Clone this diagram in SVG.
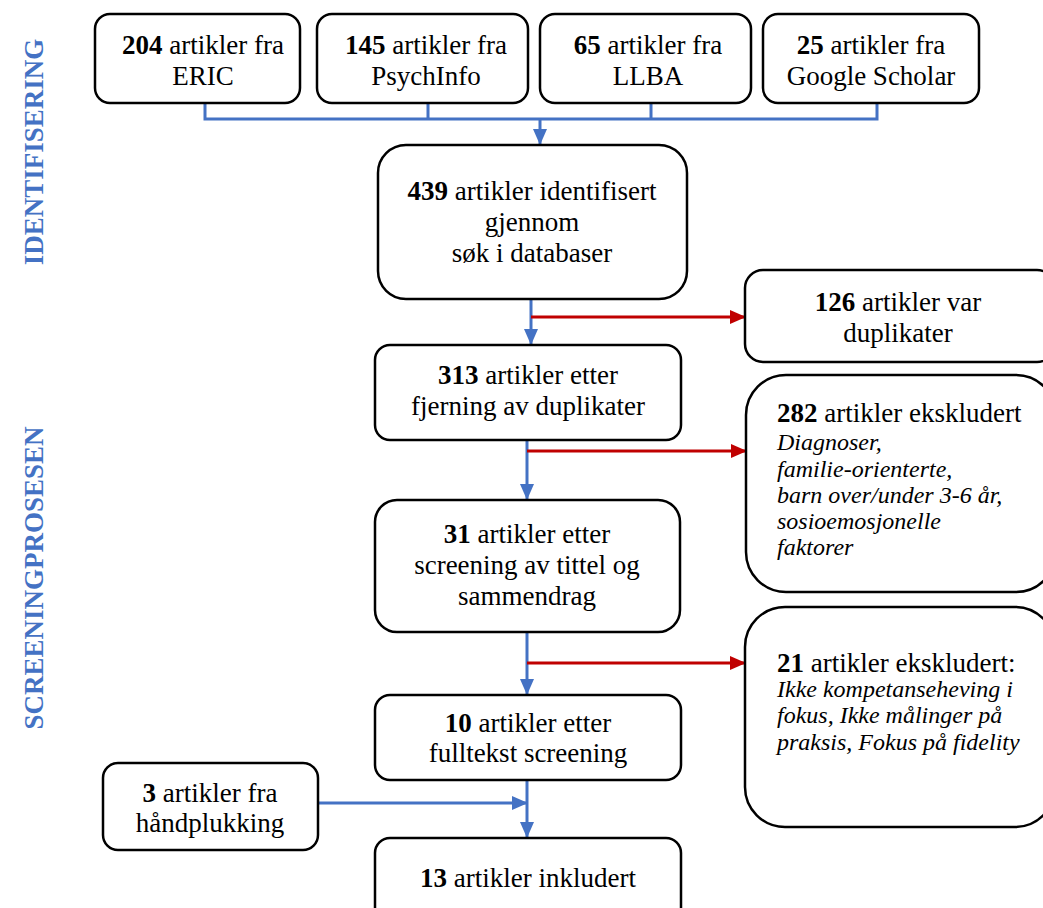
<svg xmlns="http://www.w3.org/2000/svg" width="1043" height="908" viewBox="0 0 1043 908">
<style>
.box{fill:#fff;stroke:#000;stroke-width:2.5}
.t{font-family:"Liberation Serif","Times New Roman",serif;font-size:27px;fill:#000}
.c{text-anchor:middle}
.it{font-style:italic;font-size:24px}
.b{font-weight:bold}
.side{font-family:"Liberation Serif","Times New Roman",serif;font-size:27px;font-weight:bold;fill:#4472C4;text-anchor:middle}
.blue{fill:none;stroke:#4472C4;stroke-width:3}
.red{fill:none;stroke:#C00000;stroke-width:3}
</style>
<defs>
<marker id="ab" markerWidth="16" markerHeight="14" refX="15" refY="7" orient="auto" markerUnits="userSpaceOnUse"><path d="M0,0 L16,7 L0,14 z" fill="#4472C4"/></marker>
<marker id="ar" markerWidth="16" markerHeight="14" refX="15" refY="7" orient="auto" markerUnits="userSpaceOnUse"><path d="M0,0 L16,7 L0,14 z" fill="#C00000"/></marker>
</defs>
<rect width="1043" height="908" fill="#fff"/>
<text class="side" transform="translate(43,152) rotate(-90)">IDENTIFISERING</text>
<text class="side" transform="translate(43,578) rotate(-90)">SCREENINGPROSESEN</text>
<g id="connectors">
<path class="blue" d="M205,103 V119 H877 V103 M428,103 V119 M651,103 V119"/>
<path class="blue" d="M540,119 V144" marker-end="url(#ab)"/>
<path class="blue" d="M531,299 V344" marker-end="url(#ab)"/>
<path class="red" d="M531,317 H745" marker-end="url(#ar)"/>
<path class="blue" d="M527,440 V499" marker-end="url(#ab)"/>
<path class="red" d="M527,451 H746" marker-end="url(#ar)"/>
<path class="blue" d="M527,632 V694" marker-end="url(#ab)"/>
<path class="red" d="M527,663 H745" marker-end="url(#ar)"/>
<path class="blue" d="M527,780 V837" marker-end="url(#ab)"/>
<path class="blue" d="M318,803 H527" marker-end="url(#ab)"/>
</g>
<g id="n204"><rect class="box" x="95" y="14" width="205" height="89" rx="15"/>
<text class="t c" x="203" y="54"><tspan class="b">204</tspan> artikler fra</text><text class="t c" x="203" y="85">ERIC</text></g>
<g id="n145"><rect class="box" x="317" y="14" width="211" height="89" rx="15"/>
<text class="t c" x="426" y="54"><tspan class="b">145</tspan> artikler fra</text><text class="t c" x="426" y="85">PsychInfo</text></g>
<g id="n65"><rect class="box" x="540" y="14" width="211" height="89" rx="15"/>
<text class="t c" x="648" y="54"><tspan class="b">65</tspan> artikler fra</text><text class="t c" x="648" y="85">LLBA</text></g>
<g id="n25"><rect class="box" x="763" y="14" width="216" height="89" rx="15"/>
<text class="t c" x="871" y="54"><tspan class="b">25</tspan> artikler fra</text><text class="t c" x="871" y="85">Google Scholar</text></g>
<g id="n439"><rect class="box" x="378" y="145" width="309" height="154" rx="28"/>
<text class="t c" x="532" y="200"><tspan class="b">439</tspan> artikler identifisert</text><text class="t c" x="532" y="231">gjennom</text><text class="t c" x="532" y="262">søk i databaser</text></g>
<g id="n126"><rect class="box" x="745" y="270" width="310" height="92" rx="18"/>
<text class="t c" x="898" y="311"><tspan class="b">126</tspan> artikler var</text><text class="t c" x="898" y="342">duplikater</text></g>
<g id="n313"><rect class="box" x="375" y="345" width="306" height="95" rx="15"/>
<text class="t c" x="528" y="384"><tspan class="b">313</tspan> artikler etter</text><text class="t c" x="528" y="415">fjerning av duplikater</text></g>
<g id="n282"><rect class="box" x="746" y="375" width="310" height="217" rx="40"/>
<text class="t" x="777" y="422"><tspan class="b">282</tspan> artikler ekskludert</text>
<text class="t it" x="777" y="450">Diagnoser,</text><text class="t it" x="777" y="477">familie-orienterte,</text><text class="t it" x="777" y="503">barn over/under 3-6 år,</text><text class="t it" x="777" y="529">sosioemosjonelle</text><text class="t it" x="777" y="555">faktorer</text></g>
<g id="n31"><rect class="box" x="375" y="500" width="305" height="132" rx="22"/>
<text class="t c" x="527" y="543"><tspan class="b">31</tspan> artikler etter</text><text class="t c" x="527" y="574">screening av tittel og</text><text class="t c" x="527" y="605">sammendrag</text></g>
<g id="n21"><rect class="box" x="745" y="607" width="310" height="220" rx="40"/>
<text class="t" x="777" y="672"><tspan class="b">21</tspan> artikler ekskludert:</text>
<text class="t it" x="777" y="697">Ikke kompetanseheving i</text><text class="t it" x="777" y="723">fokus, Ikke målinger på</text><text class="t it" x="777" y="750">praksis, Fokus på fidelity</text></g>
<g id="n10"><rect class="box" x="375" y="695" width="306" height="85" rx="15"/>
<text class="t c" x="528" y="732"><tspan class="b">10</tspan> artikler etter</text><text class="t c" x="528" y="762">fulltekst screening</text></g>
<g id="n3"><rect class="box" x="103" y="763" width="215" height="87" rx="15"/>
<text class="t c" x="210" y="802"><tspan class="b">3</tspan> artikler fra</text><text class="t c" x="210" y="832">håndplukking</text></g>
<g id="n13"><rect class="box" x="375" y="838" width="306" height="90" rx="15"/>
<text class="t c" x="528" y="887"><tspan class="b">13</tspan> artikler inkludert</text></g>
</svg>
